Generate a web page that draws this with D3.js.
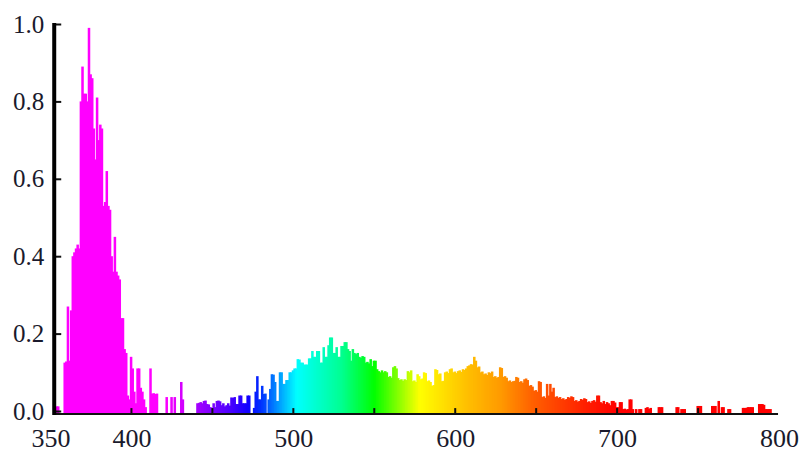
<!DOCTYPE html>
<html>
<head>
<meta charset="utf-8">
<script src="https://cdn.jsdelivr.net/npm/d3@7"></script>
<style>
  body { margin: 0; background: #fff; }
  #chart text { font-family: "Liberation Serif", "Times New Roman", serif; fill: #1a1a2c; }
</style>
</head>
<body>
<svg id="chart" width="801" height="457"></svg>

<script>
// histogram, 1 nm bins starting at 350 nm
var binStart = 350
var binWidth = 1
var counts = [
  0, 0, 0, 0.012, 0.012, 0, 0, 0, 0.125, 0.128,
  0.27, 0.13, 0.26, 0.40, 0.41, 0.42, 0.43, 0.42, 0.80, 0.89,
  0.82, 0.82, 0.80, 0.99, 0.87, 0.86, 0.73, 0.65, 0.81, 0.70,
  0.74, 0.73, 0.53, 0.54, 0.62, 0.53, 0.52, 0.40, 0.36, 0.45,
  0.36, 0.35, 0.34, 0.24, 0.24, 0.16, 0.15, 0.04, 0.03, 0.14,
  0.11, 0.05, 0.02, 0.11, 0.11, 0.06, 0.05, 0.03, 0.01, 0,
  0, 0.11, 0.045, 0.046, 0.044, 0.045, 0, 0, 0, 0,
  0, 0.036, 0, 0, 0.036, 0, 0.036, 0, 0, 0,
  0.075, 0.03, 0, 0, 0, 0, 0, 0, 0, 0,
  0.02, 0.021, 0.023, 0.02, 0.026, 0.027, 0.018, 0.017, 0.01, 0.008,
  0.02, 0.01, 0.026, 0.027, 0.025, 0.015, 0.02, 0.012, 0.015, 0.02,
  0.014, 0.035, 0.034, 0.036, 0.018, 0.018, 0.04, 0.04, 0.02, 0.02,
  0.02, 0.04, 0.04, 0, 0, 0.008, 0.05, 0.09, 0.03, 0.03,
  0.065, 0.044, 0.045, 0, 0.03, 0.057, 0.095, 0.094, 0.075, 0.026,
  0.026, 0.10, 0.10, 0.07, 0.07, 0.08, 0.08, 0.10, 0.10, 0.105,
  0.11, 0.11, 0.134, 0.133, 0.125, 0.125, 0.12, 0.12, 0.12, 0.136,
  0.136, 0.155, 0.14, 0.14, 0.155, 0.155, 0.125, 0.125, 0.165, 0.14,
  0.14, 0.17, 0.19, 0.19, 0.15, 0.15, 0.165, 0.14, 0.14, 0.168,
  0.168, 0.178, 0.178, 0.16, 0.155, 0.13, 0.16, 0.15, 0.147, 0.15,
  0.14, 0.138, 0.142, 0.14, 0.125, 0.127, 0.123, 0.134, 0.116, 0.13,
  0.13, 0.108, 0.103, 0.10, 0.105, 0.10, 0.103, 0.10, 0.088, 0.09,
  0.086, 0.113, 0.116, 0.11, 0.085, 0.08, 0.082, 0.078, 0.082, 0.08,
  0.103, 0.1, 0.105, 0.077, 0.079, 0.075, 0.095, 0.09, 0.082, 0.084,
  0.10, 0.098, 0.077, 0.079, 0.075, 0.065, 0.067, 0.108, 0.106, 0.095,
  0.097, 0.077, 0.078, 0.10, 0.102, 0.098, 0.108, 0.11, 0.10, 0.102,
  0.098, 0.103, 0.105, 0.101, 0.108, 0.106, 0.11, 0.116, 0.118, 0.121,
  0.12, 0.14, 0.13, 0.113, 0.115, 0.10, 0.102, 0.095, 0.097, 0.093,
  0.10, 0.098, 0.102, 0.088, 0.09, 0.086, 0.088, 0.113, 0.111, 0.088,
  0.09, 0.086, 0.077, 0.079, 0.075, 0.077, 0.078, 0.088, 0.086, 0.075,
  0.077, 0.073, 0.082, 0.084, 0.08, 0.065, 0.067, 0.063, 0.052, 0.054,
  0.05, 0.077, 0.075, 0.036, 0.038, 0.034, 0.07, 0.04, 0.07, 0.05,
  0.06, 0.036, 0.038, 0.034, 0.036, 0.031, 0.033, 0.029, 0.031, 0.036,
  0.034, 0.038, 0.036, 0.026, 0.028, 0.024, 0.026, 0.031, 0.029, 0.033,
  0.031, 0.023, 0.025, 0.021, 0.026, 0.028, 0.024, 0.04, 0.04, 0.023,
  0.02, 0.026, 0.018, 0.023, 0.02, 0.015, 0.026, 0.026, 0.022, 0.01,
  0.01, 0.023, 0.023, 0.005, 0.006, 0.004, 0.005, 0.03, 0.03, 0.005,
  0, 0.005, 0, 0.005, 0.005, 0, 0, 0.008, 0.01, 0.006,
  0.008, 0, 0, 0, 0, 0.01, 0.01, 0.01, 0, 0,
  0, 0, 0, 0, 0, 0, 0.01, 0.01, 0, 0.005,
  0.005, 0.005, 0, 0, 0, 0, 0, 0, 0, 0.013,
  0.013, 0.013, 0, 0, 0, 0, 0, 0, 0.013, 0.013,
  0.013, 0, 0.026, 0, 0.01, 0.01, 0, 0, 0.005, 0.005,
  0, 0, 0, 0, 0, 0, 0, 0.008, 0.008, 0.008,
  0.01, 0.01, 0.01, 0.01, 0, 0, 0, 0.018, 0.018, 0.018,
  0.016, 0.005, 0.005, 0.005, 0.005, 0, 0, 0, 0, 0
]

var yTicks = [0, 0.2, 0.4, 0.6, 0.8, 1.0]
var xTicks = [400, 450, 500, 550, 600, 650, 700, 750]
var xTickLabels = [350, 400, 500, 600, 700, 800]

// wavelength -> colour stops
var specNm = [350, 420, 432, 445, 460, 472, 480, 490, 502, 530, 550, 578, 607, 628, 648, 680, 700, 800]
var specColors = ["#ff00ff", "#ff00ff", "#d000ff", "#9000ff", "#5000ff", "#1000ff", "#0030ff", "#0090ff",
                  "#00ffff", "#00ff90", "#00ff00", "#ffff00", "#ffc000", "#ff9a00", "#ff6000", "#ff2000",
                  "#ff0000", "#ff0000"]

var svg = d3.select('#chart')

var x = d3.scaleLinear().domain([350, 800]).range([50.5, 779])
var y = d3.scaleLinear().domain([0, 1]).range([411, 24])
var color = d3.scaleLinear().domain(specNm).range(specColors).interpolate(d3.interpolateRgb)

var originX = 352.3   // where the y axis sits
var originY = -0.008  // where the x axis sits

var data = counts.map(function(v, i){
  return {nm: binStart + i * binWidth, v: v}
})

// bars overlap a little so no seams show between neighbours
svg.append("g")
  .selectAll("rect")
  .data(data.filter(function(d){ return d.v > 0 }))
  .enter()
  .append("rect")
    .attr("x", function(d){ return x(d.nm) })
    .attr("width", function(d){ return x(d.nm + binWidth) - x(d.nm) + 0.9 })
    .attr("y", function(d){ return y(d.v) })
    .attr("height", function(d){ return y(originY) - y(d.v) })
    .attr("fill", function(d){ return color(d.nm + binWidth / 2) })

// x axis line + little upward ticks
svg.append("line")
  .attr("x1", x(originX)).attr("x2", x(799.4))
  .attr("y1", y(originY)).attr("y2", y(originY))
  .style("stroke", "#111").style("stroke-width", 2)

svg.append("g")
  .selectAll("line")
  .data(xTicks)
  .enter()
  .append("line")
    .attr("x1", function(d){ return x(d) }).attr("x2", function(d){ return x(d) })
    .attr("y1", y(originY)).attr("y2", y(originY) - 6)
    .style("stroke", "#111").style("stroke-width", 2)

var xAxis = svg.append("g")
  .attr("transform", "translate(0," + (y(originY) + 14) + ")")
  .call(d3.axisBottom(x).tickValues(xTickLabels).tickSize(0).tickPadding(0).tickFormat(d3.format("d")))
xAxis.select(".domain").remove()
xAxis.selectAll("text").attr("dy", "0.71em").style("font-size", "26px")

// y axis
var yAxis = svg.append("g")
  .attr("transform", "translate(" + x(originX) + ",0)")
  .call(d3.axisLeft(y).tickValues(yTicks).tickSizeInner(-7).tickSizeOuter(0).tickPadding(10).tickFormat(d3.format(".1f")))
yAxis.select(".domain").remove()
yAxis.selectAll(".tick line").style("stroke", "#111").style("stroke-width", 2)
yAxis.selectAll("text").style("font-size", "25px")

svg.append("line")
  .attr("x1", x(originX)).attr("x2", x(originX))
  .attr("y1", y(1) - 1).attr("y2", y(originY) + 1)
  .style("stroke", "#000").style("stroke-width", 4)
</script>
</body>
</html>
